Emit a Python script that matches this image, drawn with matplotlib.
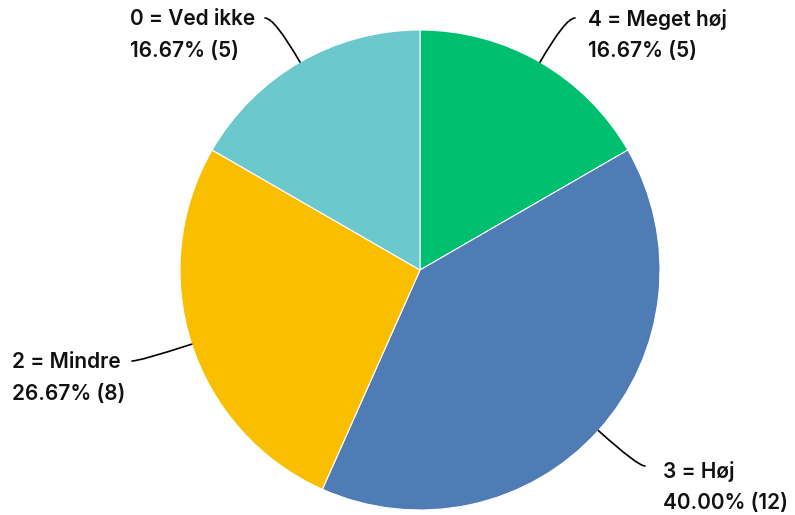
import numpy as np
import matplotlib.pyplot as plt

# data
labels = ["4 = Meget høj", "3 = Høj", "2 = Mindre", "0 = Ved ikke"]
counts = [5, 12, 8, 5]
colors = ["#00BF6F", "#507CB6", "#F9BE00", "#6BC8CD"]

W, H = 795, 515
fig = plt.figure(figsize=(W / 100, H / 100), dpi=100)
ax = fig.add_axes([0, 0, 1, 1])

cx, cy, r = 420, H - 270, 240
wedges, _ = ax.pie(counts, colors=colors, startangle=90, counterclock=False,
                   center=(cx, cy), radius=r, frame=True,
                   wedgeprops=dict(edgecolor="white", linewidth=0.8))
ax.set_xlim(0, W)
ax.set_ylim(0, H)
ax.set_aspect("equal")
ax.axis("off")

total = sum(counts)
# label anchor (left edge of text, y of first line) and leader end point
label_pos = [(588, H - 19), (663, H - 471), (12, H - 362), (130, H - 19)]
line_end = [(575, H - 18), (645, H - 466), (132, H - 361), (265, H - 18)]
conn = ["angle3,angleA=0,angleB=60", "angle3,angleA=0,angleB=-42",
        "angle3,angleA=0,angleB=18", "angle3,angleA=0,angleB=120"]

font = dict(fontsize=15, fontweight="semibold", color="#111111",
            family=["Inter", "DejaVu Sans"])

for w, lab, n, lp, le, cs in zip(wedges, labels, counts, label_pos, line_end, conn):
    ang = np.deg2rad((w.theta1 + w.theta2) / 2)
    ex, ey = cx + r * np.cos(ang), cy + r * np.sin(ang)
    ax.annotate("", xy=(ex, ey), xytext=le,
                arrowprops=dict(arrowstyle="-", color="black", lw=1.2,
                                connectionstyle=cs, shrinkA=0, shrinkB=0))
    ax.text(lp[0], lp[1], lab, ha="left", va="center", **font)
    ax.text(lp[0], lp[1] - 32, f"{n / total * 100:.2f}% ({n})", ha="left",
            va="center", **font)

fig.savefig("out.png", dpi=100)
